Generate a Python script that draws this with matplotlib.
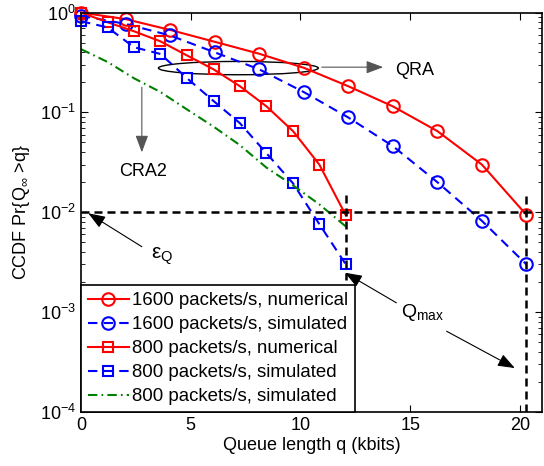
import matplotlib
matplotlib.use('Agg')
import matplotlib.pyplot as plt
from matplotlib.patches import Ellipse

plt.rcParams['font.family'] = ['Liberation Sans', 'DejaVu Sans']
plt.rcParams['mathtext.fontset'] = 'custom'
plt.rcParams['mathtext.rm'] = 'Liberation Sans'
plt.rcParams['mathtext.it'] = 'Liberation Sans:italic'
plt.rcParams['mathtext.sf'] = 'Liberation Sans'
plt.rcParams['font.size'] = 13

# queue length grid (kbits)
q_1600 = [0, 2.03, 4.06, 6.09, 8.12, 10.15, 12.18, 14.21, 16.24, 18.27, 20.3]
q_800 = [0, 1.21, 2.41, 3.62, 4.83, 6.04, 7.24, 8.45, 9.66, 10.86, 12.07]

# CCDF values
num_1600 = [1.0, 0.86, 0.67, 0.51, 0.387, 0.28, 0.183, 0.115, 0.065, 0.030, 0.0094]
sim_1600 = [0.93, 0.77, 0.59, 0.40, 0.27, 0.16, 0.089, 0.046, 0.020, 0.0082, 0.0030]
num_800 = [1.0, 0.80, 0.65, 0.515, 0.372, 0.27, 0.183, 0.115, 0.065, 0.030, 0.0093]
sim_800 = [0.82, 0.71, 0.45, 0.385, 0.22, 0.13, 0.078, 0.039, 0.0195, 0.0076, 0.0030]
cra2_800 = [0.43, 0.32, 0.22, 0.16, 0.107, 0.072, 0.047, 0.028, 0.0186, 0.012, 0.0072]

labels = ['1600 packets/s, numerical', '1600 packets/s, simulated',
          '800 packets/s, numerical', '800 packets/s, simulated',
          '800 packets/s, simulated']

eps_q = 0.01
qmax_800 = 12.07
qmax_1600 = 20.3

fig = plt.figure(figsize=(5.44, 4.66), dpi=100)
ax = fig.add_axes([0.149, 0.116, 0.847, 0.857])

red = '#ff0000'
blue = '#0000ff'
green = '#008000'
dash = (0, (4.5, 3))
dashdot = (0, (4.5, 2, 0.8, 2))

ax.semilogy(q_1600, num_1600, '-', color=red, lw=1.5, marker='o', ms=9,
            mfc='none', mec=red, mew=1.5, label=labels[0], clip_on=False)
ax.semilogy(q_1600, sim_1600, linestyle=dash, color=blue, lw=1.5, marker='o', ms=9,
            mfc='none', mec=blue, mew=1.5, label=labels[1], clip_on=False)
ax.semilogy(q_800, num_800, '-', color=red, lw=1.5, marker='s', ms=7.5,
            mfc='none', mec=red, mew=1.5, label=labels[2], clip_on=False)
ax.semilogy(q_800, sim_800, linestyle=dash, color=blue, lw=1.5, marker='s', ms=7.5,
            mfc='none', mec=blue, mew=1.5, label=labels[3], clip_on=False)
ax.semilogy(q_800, cra2_800, linestyle=dashdot, color=green, lw=1.5, label=labels[4])

# threshold lines
kdash = (0, (3.2, 2))
ax.plot([0, 20.6], [eps_q, eps_q], linestyle=kdash, color='k', lw=1.8)
ax.plot([qmax_800, qmax_800], [0.015, 0.0021], linestyle=kdash, color='k', lw=1.8)
ax.plot([qmax_1600, qmax_1600], [0.0146, 1e-4], linestyle=kdash, color='k', lw=1.8)

ax.set_xlim(0, 21)
ax.set_ylim(1e-4, 1)
ax.set_xticks([0, 5, 10, 15, 20])
ax.tick_params(which='both', direction='in', top=True, right=True, labelsize=13)
ax.tick_params(which='major', length=5)
ax.tick_params(which='minor', length=3)
for s in ax.spines.values():
    s.set_linewidth(1.2)

ax.set_xlabel('Queue length q (kbits)', fontsize=13, labelpad=2)
ax.set_ylabel(r'CCDF Pr{Q$_\infty$ >q}', fontsize=13, labelpad=6)

# annotations
ax.add_patch(Ellipse((0.3414, 0.861), 0.347, 0.0333, transform=ax.transAxes,
                     fill=False, edgecolor='k', lw=1.0))
arr = dict(arrowstyle='-|>,head_length=0.8,head_width=0.3', color='k', lw=0.8,
           shrinkA=0, shrinkB=0)
arr_gray = dict(arrowstyle='-|>,head_length=0.8,head_width=0.3', color='#555555',
                lw=0.8, shrinkA=0, shrinkB=0)
ax.annotate('', xy=(13.77, 0.284), xytext=(10.97, 0.284), arrowprops=arr_gray)
ax.text(14.3, 0.262, 'QRA', ha='left', va='center', fontsize=13)
ax.annotate('', xy=(2.77, 0.0398), xytext=(2.77, 0.179), arrowprops=arr_gray)
ax.text(2.82, 0.0258, 'CRA2', ha='center', va='center', fontsize=13)
ax.annotate('', xy=(0.33, 0.00977), xytext=(2.77, 0.00452), arrowprops=arr)
ax.text(3.2, 0.0036, r'$\mathrm{\varepsilon}_\mathrm{Q}$', ha='left', va='center', fontsize=15)
ax.text(14.6, 0.00098, r'Q$_\mathrm{max}$', ha='left', va='center', fontsize=14)
ax.annotate('', xy=(12.03, 0.00248), xytext=(14.37, 0.00124), arrowprops=arr)
ax.annotate('', xy=(19.77, 0.000275), xytext=(16.66, 0.000643), arrowprops=arr)

leg = ax.legend(loc='lower left', bbox_to_anchor=(0, 0), borderaxespad=0,
                fontsize=13.4, fancybox=False, framealpha=1, edgecolor='k',
                handlelength=2.2, handletextpad=0.2, labelspacing=0.38,
                borderpad=0.35)
leg.get_frame().set_linewidth(1.2)

fig.savefig('out.png', dpi=100)
